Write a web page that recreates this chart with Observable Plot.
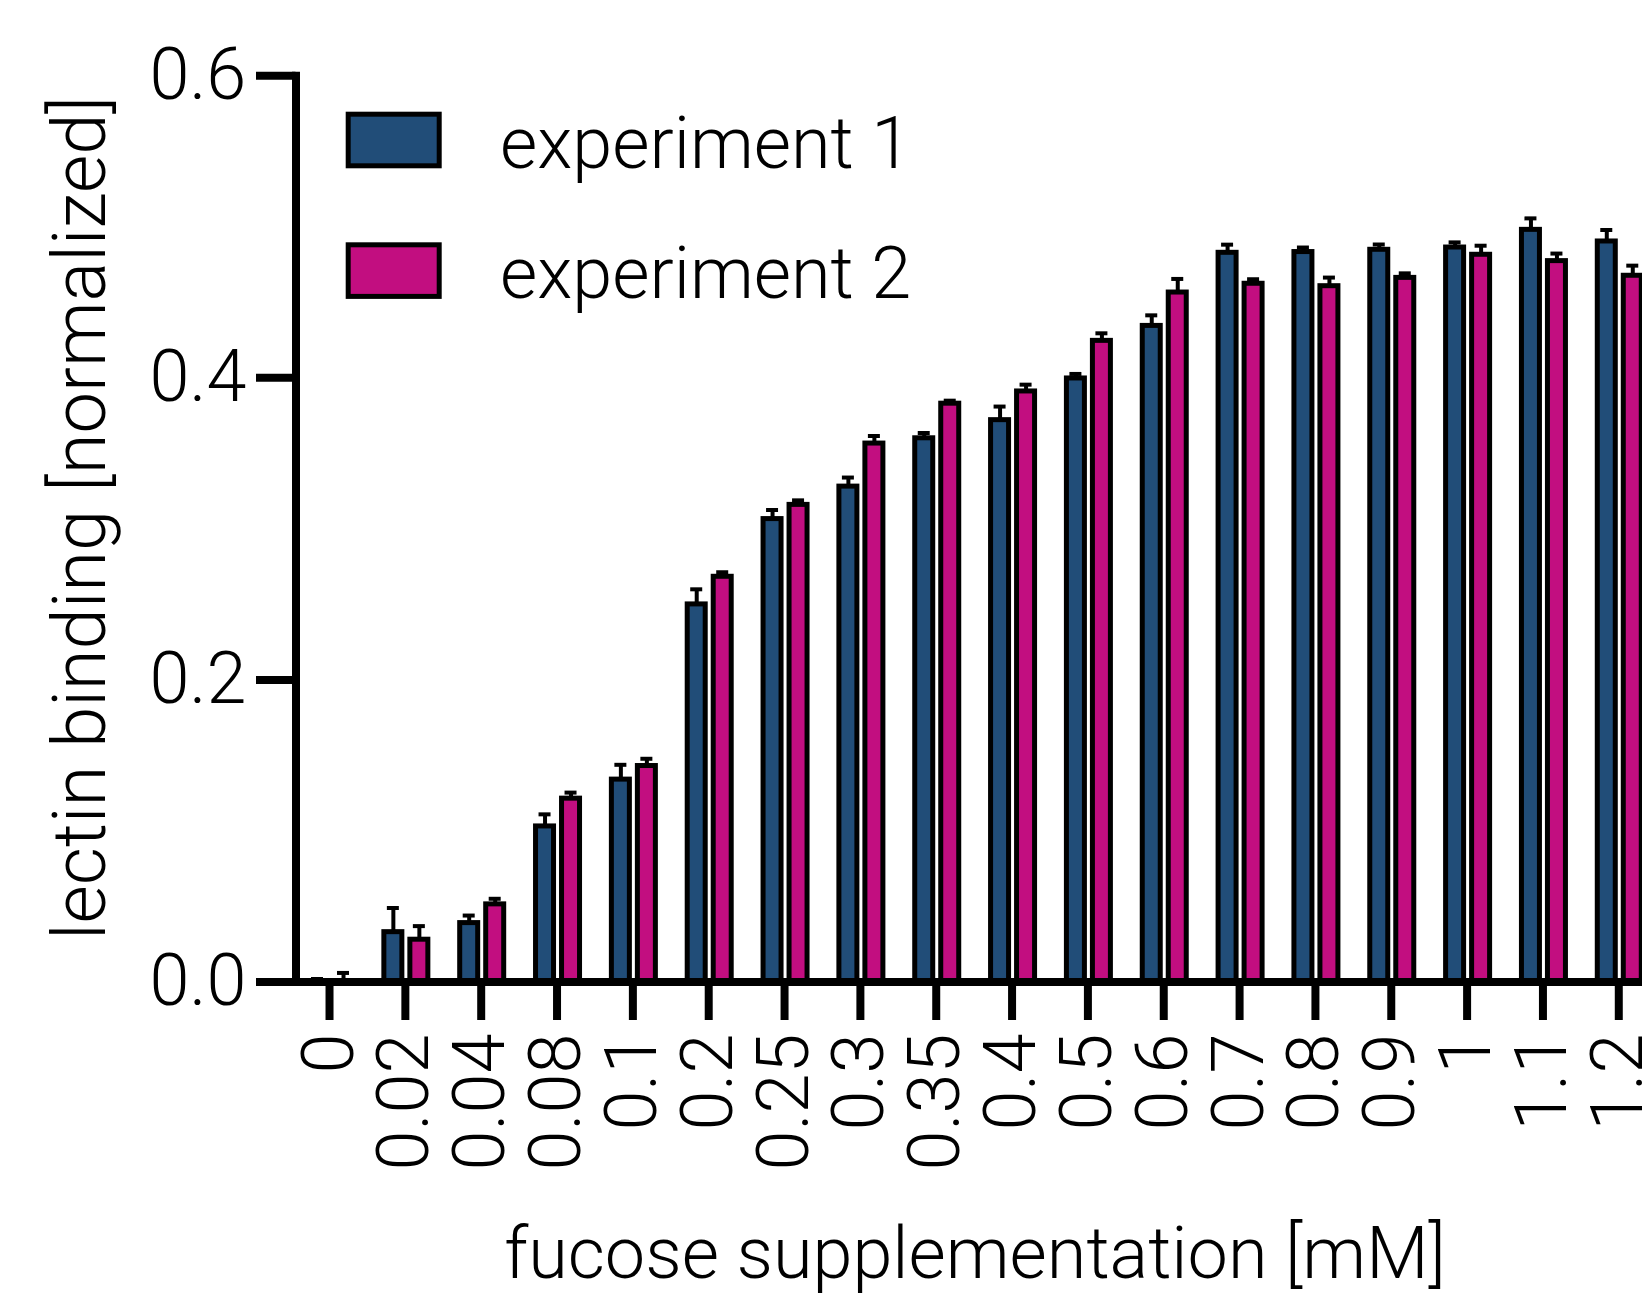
<!DOCTYPE html>
<html>
<head>
<meta charset="utf-8">
<script src="https://cdn.jsdelivr.net/npm/d3@7"></script>
<script src="https://cdn.jsdelivr.net/npm/@observablehq/plot@0.6"></script>
<style>
  html, body { margin: 0; padding: 0; background: #fff; overflow: hidden; }
  #chart { position: relative; width: 1642px; height: 1294px; }
  #chart svg { max-width: none; }
</style>
</head>
<body>
<div id="chart"></div>
<script>
// ---- data ----
const concentrations = ["0","0.02","0.04","0.08","0.1","0.2","0.25","0.3","0.35","0.4","0.5","0.6","0.7","0.8","0.9","1","1.1","1.2"];
const seriesNames = ["experiment 1", "experiment 2"];
const exp1 = [0.000, 0.033, 0.039, 0.103, 0.134, 0.250, 0.3065, 0.328, 0.360, 0.372, 0.3996, 0.4344, 0.4828, 0.4833, 0.4848, 0.4863, 0.498, 0.4903];
const err1 = [0.002, 0.016, 0.005, 0.008, 0.0098, 0.010, 0.006, 0.006, 0.0035, 0.009, 0.003, 0.007, 0.0054, 0.003, 0.0035, 0.0034, 0.0076, 0.0076];
const exp2 = [0.000, 0.028, 0.0514, 0.1214, 0.143, 0.2683, 0.3159, 0.3565, 0.3829, 0.391, 0.4245, 0.4565, 0.4623, 0.4607, 0.4662, 0.4815, 0.4773, 0.4676];
const err2 = [0.006, 0.009, 0.0037, 0.004, 0.0048, 0.003, 0.003, 0.005, 0.002, 0.0045, 0.005, 0.009, 0.003, 0.0057, 0.003, 0.006, 0.005, 0.0067];
const yTicks = [0, 0.2, 0.4, 0.6];
const colors = ["#214d78", "#c20e80"];
const xTitle = "fucose supplementation [mM]";
const yTitle = "lectin binding [normalized]";

const rows = concentrations.flatMap((c, i) => [
  {conc: c, series: seriesNames[0], value: exp1[i], err: err1[i]},
  {conc: c, series: seriesNames[1], value: exp2[i], err: err2[i]}
]);

// ---- layout ----
const W = 1642, H = 1294;
const frameLeft = 295.5, frameTop = 75.3, frameBottom = 981.5;
const xRange = [291.1, 1656.2];
const band = (xRange[1] - xRange[0]) / concentrations.length;
const barW = 18, capW = 12;
const seriesOffset = {"experiment 1": -12, "experiment 2": 14};

const marks = [];
for (const s of seriesNames) {
  const d = rows.filter(r => r.series === s);
  const dx = seriesOffset[s];
  marks.push(Plot.barY(d, {
    x: "conc", y: "value", fill: "series", stroke: "black", strokeWidth: 5,
    insetLeft: (band - barW) / 2, insetRight: (band - barW) / 2, dx
  }));
  marks.push(Plot.ruleX(d, {
    x: "conc", y1: "value", y2: r => r.value + r.err, stroke: "black", strokeWidth: 4, dx
  }));
  marks.push(Plot.tickY(d, {
    x: "conc", y: r => r.value + r.err, stroke: "black", strokeWidth: 4,
    insetLeft: (band - capW) / 2, insetRight: (band - capW) / 2, dx
  }));
}

const plot = Plot.plot({
  width: W,
  height: H,
  marginLeft: frameLeft,
  marginTop: frameTop,
  marginBottom: H - frameBottom,
  marginRight: 0,
  style: {fontFamily: "Roboto, 'Noto Sans', sans-serif", fontSize: "72px", fontWeight: 300, color: "black", background: "white", overflow: "hidden"},
  x: {type: "band", domain: concentrations, range: xRange, padding: 0, round: false},
  y: {domain: [0, 0.6], range: [frameBottom, frameTop]},
  color: {domain: seriesNames, range: colors},
  marks: [
    ...marks,
    Plot.axisY({ticks: yTicks, tickFormat: d => d.toFixed(1), tickSize: 39.5, tickPadding: 10, strokeWidth: 8, label: null}),
    Plot.axisX({tickSize: 38.5, tickPadding: 13, tickRotate: -90, strokeWidth: 8, label: null}),
    Plot.ruleY([0], {strokeWidth: 8}),
    Plot.frame({anchor: "left", strokeWidth: 8, strokeLinecap: "square"})
  ]
});

const svg = d3.select(plot);

// ---- axis titles ----
const yTitlePos = {x: 104.7, y: 518, size: 74};
svg.append("text")
  .attr("transform", `translate(${yTitlePos.x},${yTitlePos.y}) rotate(-90)`)
  .attr("text-anchor", "middle")
  .attr("font-size", yTitlePos.size)
  .attr("fill", "black")
  .text(yTitle);
const xTitlePos = {x: 975, y: 1277.5, size: 72};
svg.append("text")
  .attr("x", xTitlePos.x).attr("y", xTitlePos.y)
  .attr("text-anchor", "middle")
  .attr("font-size", xTitlePos.size)
  .attr("fill", "black")
  .text(xTitle);

// ---- legend ----
const legendSwatch = {x: 345.7, w: 96, h: 56.6, tops: [111.7, 242.3], stroke: 5};
const legendText = {x: 500, baselines: [167.5, 298.4]};
const lg = svg.append("g").attr("class", "legend");
seriesNames.forEach((s, i) => {
  lg.append("rect")
    .attr("x", legendSwatch.x + legendSwatch.stroke / 2)
    .attr("y", legendSwatch.tops[i] + legendSwatch.stroke / 2)
    .attr("width", legendSwatch.w - legendSwatch.stroke)
    .attr("height", legendSwatch.h - legendSwatch.stroke)
    .attr("fill", colors[i]).attr("stroke", "black").attr("stroke-width", legendSwatch.stroke);
  lg.append("text")
    .attr("x", legendText.x).attr("y", legendText.baselines[i])
    .attr("text-anchor", "start")
    .attr("fill", "black")
    .text(s);
});

document.getElementById("chart").appendChild(plot);
</script>
</body>
</html>
